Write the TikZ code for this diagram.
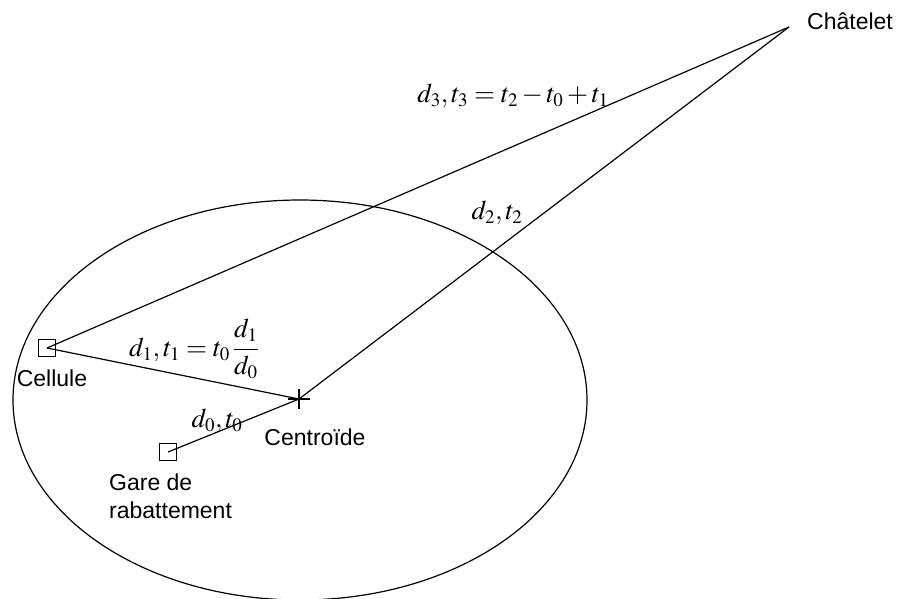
\documentclass[tikz,border=0pt]{standalone}
\usepackage{amsmath}
\usepackage{mathptmx}
\usepackage[no-math]{fontspec}
\newfontfamily\helv{Liberation Sans}
\DeclareMathSizes{27}{27}{19}{15}
\usetikzlibrary{positioning}

\begin{document}
\begin{tikzpicture}[
  x=1pt, y=-1pt,
  lbl/.style={font=\helv\fontsize{23}{28}\selectfont, inner sep=0pt},
  eq/.style={font=\fontsize{27}{31}\selectfont, inner sep=0pt},
  sq/.style={draw, line width=1.2pt, minimum size=17pt, inner sep=0pt},
  ln/.style={line width=1.2pt}
]
\useasboundingbox (0,0) rectangle (897,598);
\draw[ln] (300,400) ellipse [x radius=287, y radius=200];

\node[sq] (cellule) at (47,348) {};
\node[sq] (gare) at (168,452) {};
\coordinate (centroide) at (299,399);
\coordinate (chatelet) at (789,27);

\draw[ln] (cellule.center) -- (chatelet);
\draw[ln] (cellule.center) -- (centroide);
\draw[ln] (gare.center) -- (centroide);
\draw[ln] (centroide) -- (chatelet);
\draw[ln] (centroide) +(-11,0) -- +(11,0) (centroide) +(0,-10) -- +(0,10);

\node[lbl, anchor=west] (chatelet-lbl) at (807,21) {Châtelet};
\node[lbl] (cellule-lbl) at (52,378) {Cellule};
\node[lbl] (centroide-lbl) at (315,437) {Centroïde};
\node[lbl, align=left, anchor=north west] (gare-lbl) at (109,474) {Gare de\\rabattement};

\node[eq] (eq3) at (513,96) {$d_3, t_3 = t_2 - t_0 + t_1$};
\node[eq] (eq2) at (497,213) {$d_2, t_2$};
\node[eq] (eq1) at (194,349) {$d_1, t_1 = t_0\,\dfrac{d_1}{d_0}$};
\node[eq] (eq0) at (217,421) {$d_0, t_0$};
\end{tikzpicture}
\end{document}
